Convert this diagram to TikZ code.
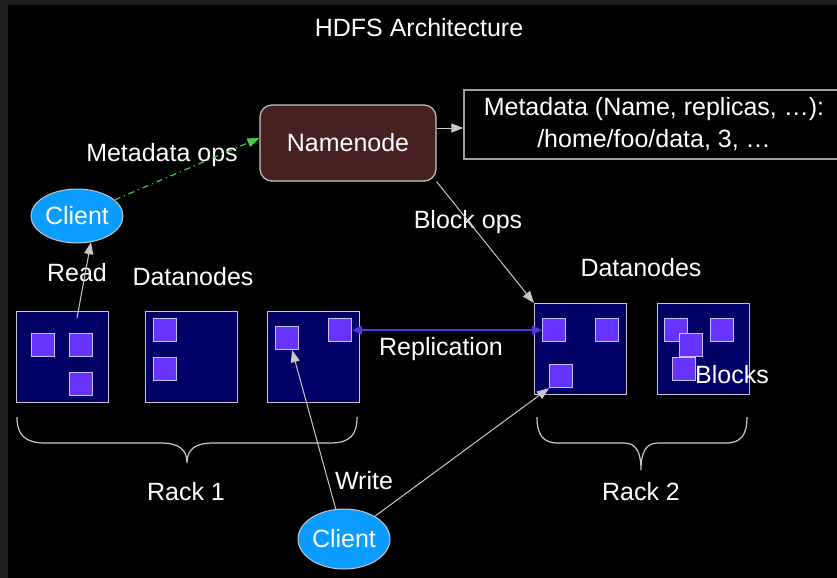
\documentclass[tikz,border=0pt]{standalone}
\usepackage{fontspec}
\setmainfont{Liberation Sans}
\usetikzlibrary{arrows.meta,shapes.geometric}
\definecolor{navyfill}{HTML}{000066}
\definecolor{blockfill}{HTML}{6633FF}
\definecolor{blockline}{HTML}{C8C0FF}
\definecolor{nnfill}{HTML}{472020}
\definecolor{clientfill}{HTML}{0A9CFF}
\definecolor{lightline}{HTML}{C8C8C8}
\definecolor{repcol}{HTML}{5533DD}
\definecolor{greencol}{HTML}{44CC44}
\definecolor{stripcol}{HTML}{1E1E1E}
\begin{document}
\begin{tikzpicture}[x=0.5pt,y=-0.5pt,
  every node/.style={font=\fontsize{12.5}{16}\selectfont, text=white},
  lbl/.style={inner sep=0pt},
  dnbox/.style={draw=lightline, fill=navyfill, line width=0.6pt, minimum width=46pt, minimum height=45.5pt, inner sep=0pt, anchor=north west},
  blkbox/.style={draw=blockline, fill=blockfill, line width=0.6pt, minimum size=11.5pt, inner sep=0pt, anchor=north west},
  clientnode/.style={ellipse, draw=lightline, fill=clientfill, line width=0.5pt, inner sep=0pt, minimum width=46pt},
  arr/.style={draw=lightline, line width=0.5pt, -{Triangle[length=6pt,width=4.5pt]}},
  bracepath/.style={draw=lightline, line width=0.6pt}
]
\useasboundingbox (0,0) rectangle (837,578);
\fill[black] (0,0) rectangle (837,578);
\fill[stripcol] (0,0) rectangle (8,578);
\fill[stripcol] (0,0) rectangle (837,5);

% title
\node[lbl] (title) at (419,28) {HDFS Architecture};

% namenode and metadata
\node[draw=lightline, fill=nnfill, rounded corners=6pt, line width=0.6pt, minimum width=88pt, minimum height=38pt, inner sep=0pt] (nn) at (348,143) {Namenode};
\node[draw=lightline!80!black, line width=0.6pt, minimum width=190pt, minimum height=34.5pt, align=center, inner sep=0pt] (meta) at (654,124.5) {Metadata (Name, replicas, …):\\/home/foo/data, 3, …};
\coordinate (na) at ([yshift=7.5pt]nn.east);
\draw[arr] (na) -- (na -| meta.west);

% clients
\node[clientnode, minimum height=27pt] (c1) at (77,216) {Client};
\node[clientnode, minimum height=30pt] (c2) at (344,539) {Client};

% datanodes rack 1
\node[dnbox] (d1) at (16,311) {};
\node[dnbox] (d2) at (145,311) {};
\node[dnbox] (d3) at (267,311) {};
% datanodes rack 2
\node[dnbox] (d4) at (534,303) {};
\node[dnbox] (d5) at (657,303) {};

% blocks
\node[blkbox] (b1a) at (31,333) {};
\node[blkbox] (b1b) at (69,333) {};
\node[blkbox] (b1c) at (69,372) {};
\node[blkbox] (b2a) at (153,318) {};
\node[blkbox] (b2b) at (153,357) {};
\node[blkbox] (b3a) at (275,326) {};
\node[blkbox] (b3b) at (328,318) {};
\node[blkbox] (b4a) at (542,318) {};
\node[blkbox] (b4b) at (595,318) {};
\node[blkbox] (b4c) at (549,364) {};
\node[blkbox] (b5a) at (664,318) {};
\node[blkbox] (b5b) at (710,318) {};
\node[blkbox] (b5c) at (679,333) {};
\node[blkbox] (b5d) at (672,357) {};

% labels
\node[lbl] (lmeta) at (162,155) {Metadata ops};
\node[lbl] (lread) at (77,273) {Read};
\node[lbl] (ldn1) at (193,277) {Datanodes};
\node[lbl] (ldn2) at (641,268) {Datanodes};
\node[lbl] (lblock) at (468,222) {Block ops};
\node[lbl] (lrep) at (441,349) {Replication};
\node[lbl] (lblocks) at (732,375) {Blocks};
\node[lbl] (lwrite) at (364,481) {Write};
\node[lbl] (lrack1) at (186,492) {Rack 1};
\node[lbl] (lrack2) at (641,492) {Rack 2};

% connectors
\draw[greencol, line width=0.6pt, dash dot, -{Triangle[length=6pt,width=4.5pt]}] (c1) -- ([yshift=2.5pt]nn.west);
\coordinate (r0) at (77,318);
\draw[arr] (r0) -- (c1.-62);
\draw[arr] (nn.south east) -- (d4.north west);
\draw[repcol, line width=1pt, {Triangle[length=5pt,width=4.5pt]}-{Triangle[length=5pt,width=4.5pt]}] (b3b.east) -- (b4a.west);
\draw[arr] (c2) -- ([xshift=2.5pt]b3a.south);
\draw[arr] (c2) -- (b4c.south west);

% braces
\draw[bracepath] (17,417) .. controls (17,435) and (25,443) .. (45,443) -- (160,443)
  .. controls (180,443) and (187,450) .. (187,463)
  .. controls (187,450) and (194,443) .. (214,443) -- (330,443)
  .. controls (350,443) and (357,435) .. (357,417);
\draw[bracepath] (537,417) .. controls (537,435) and (543,443) .. (558,443) -- (624,443)
  .. controls (636,443) and (641,452) .. (641,470)
  .. controls (641,452) and (646,443) .. (658,443) -- (726,443)
  .. controls (741,443) and (747,435) .. (747,417);
\end{tikzpicture}
\end{document}
